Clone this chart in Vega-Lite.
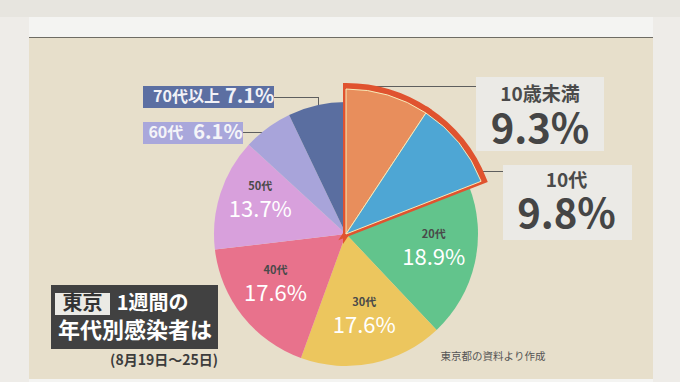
{
"$schema":"https://vega.github.io/schema/vega-lite/v6.json",
"background":"#e7dfcb",
"padding":0,
"autosize":{"type":"pad"},
"config":{"view":{"stroke":null},"font":"Noto Sans CJK JP"},
"data":{"values":[]},
"datasets":{"ages":[
 {"age":"10歳未満","share":0.093,"idx":1},
 {"age":"10代","share":0.098,"idx":2},
 {"age":"20代","share":0.189,"idx":3},
 {"age":"30代","share":0.176,"idx":4},
 {"age":"40代","share":0.176,"idx":5},
 {"age":"50代","share":0.137,"idx":6},
 {"age":"60代","share":0.061,"idx":7},
 {"age":"70代以上","share":0.071,"idx":8}
]},
"columns":16,
"align":"each",
"bounds":"flush",
"spacing":0,
"concat":[
{"width":29,"height":17,"mark":"text","encoding":{},"view":{"fill":"#e7e5df"}},
{"width":22,"height":17,"mark":"text","encoding":{},"view":{"fill":"#e7e5df"}},
{"width":4,"height":17,"mark":"text","encoding":{},"view":{"fill":"#e7e5df"}},
{"width":55,"height":17,"mark":"text","encoding":{},"view":{"fill":"#e7e5df"}},
{"width":33,"height":17,"mark":"text","encoding":{},"view":{"fill":"#e7e5df"}},
{"width":75,"height":17,"mark":"text","encoding":{},"view":{"fill":"#e7e5df"}},
{"width":25,"height":17,"mark":"text","encoding":{},"view":{"fill":"#e7e5df"}},
{"width":31,"height":17,"mark":"text","encoding":{},"view":{"fill":"#e7e5df"}},
{"width":44,"height":17,"mark":"text","encoding":{},"view":{"fill":"#e7e5df"}},
{"width":56,"height":17,"mark":"text","encoding":{},"view":{"fill":"#e7e5df"}},
{"width":102,"height":17,"mark":"text","encoding":{},"view":{"fill":"#e7e5df"}},
{"width":27,"height":17,"mark":"text","encoding":{},"view":{"fill":"#e7e5df"}},
{"width":101,"height":17,"mark":"text","encoding":{},"view":{"fill":"#e7e5df"}},
{"width":28,"height":17,"mark":"text","encoding":{},"view":{"fill":"#e7e5df"}},
{"width":21,"height":17,"mark":"text","encoding":{},"view":{"fill":"#e7e5df"}},
{"width":27,"height":17,"mark":"text","encoding":{},"view":{"fill":"#e7e5df"}},

{"width":29,"height":20,"mark":"text","encoding":{},"view":{"fill":"#eeece8"}},
{"width":22,"height":20,"mark":"text","encoding":{},"view":{"fill":"#f4f4f2"}},
{"width":4,"height":20,"mark":"text","encoding":{},"view":{"fill":"#f4f4f2"}},
{"width":55,"height":20,"mark":"text","encoding":{},"view":{"fill":"#f4f4f2"}},
{"width":33,"height":20,"mark":"text","encoding":{},"view":{"fill":"#f4f4f2"}},
{"width":75,"height":20,"mark":"text","encoding":{},"view":{"fill":"#f4f4f2"}},
{"width":25,"height":20,"mark":"text","encoding":{},"view":{"fill":"#f4f4f2"}},
{"width":31,"height":20,"mark":"text","encoding":{},"view":{"fill":"#f4f4f2"}},
{"width":44,"height":20,"mark":"text","encoding":{},"view":{"fill":"#f4f4f2"}},
{"width":56,"height":20,"mark":"text","encoding":{},"view":{"fill":"#f4f4f2"}},
{"width":102,"height":20,"mark":"text","encoding":{},"view":{"fill":"#f4f4f2"}},
{"width":27,"height":20,"mark":"text","encoding":{},"view":{"fill":"#f4f4f2"}},
{"width":101,"height":20,"mark":"text","encoding":{},"view":{"fill":"#f4f4f2"}},
{"width":28,"height":20,"mark":"text","encoding":{},"view":{"fill":"#f4f4f2"}},
{"width":21,"height":20,"mark":"text","encoding":{},"view":{"fill":"#f4f4f2"}},
{"width":27,"height":20,"mark":"text","encoding":{},"view":{"fill":"#eeece8"}},

{"width":29,"height":1,"mark":"text","encoding":{},"view":{"fill":"#eeece8"}},
{"width":22,"height":1,"mark":"text","encoding":{},"view":{"fill":"#6e6c64"}},
{"width":4,"height":1,"mark":"text","encoding":{},"view":{"fill":"#6e6c64"}},
{"width":55,"height":1,"mark":"text","encoding":{},"view":{"fill":"#6e6c64"}},
{"width":33,"height":1,"mark":"text","encoding":{},"view":{"fill":"#6e6c64"}},
{"width":75,"height":1,"mark":"text","encoding":{},"view":{"fill":"#6e6c64"}},
{"width":25,"height":1,"mark":"text","encoding":{},"view":{"fill":"#6e6c64"}},
{"width":31,"height":1,"mark":"text","encoding":{},"view":{"fill":"#6e6c64"}},
{"width":44,"height":1,"mark":"text","encoding":{},"view":{"fill":"#6e6c64"}},
{"width":56,"height":1,"mark":"text","encoding":{},"view":{"fill":"#6e6c64"}},
{"width":102,"height":1,"mark":"text","encoding":{},"view":{"fill":"#6e6c64"}},
{"width":27,"height":1,"mark":"text","encoding":{},"view":{"fill":"#6e6c64"}},
{"width":101,"height":1,"mark":"text","encoding":{},"view":{"fill":"#6e6c64"}},
{"width":28,"height":1,"mark":"text","encoding":{},"view":{"fill":"#6e6c64"}},
{"width":21,"height":1,"mark":"text","encoding":{},"view":{"fill":"#6e6c64"}},
{"width":27,"height":1,"mark":"text","encoding":{},"view":{"fill":"#eeece8"}},

{"width":29,"height":39,"mark":"text","encoding":{},"view":{"fill":"#eeece8"}},
{"width":1,"height":1,"mark":"text","encoding":{}},
{"width":1,"height":1,"mark":"text","encoding":{}},
{"width":1,"height":1,"mark":"text","encoding":{}},
{"width":1,"height":1,"mark":"text","encoding":{}},
{"width":1,"height":1,"mark":"text","encoding":{}},
{"width":1,"height":1,"mark":"text","encoding":{}},
{"width":1,"height":1,"mark":"text","encoding":{}},
{"width":1,"height":1,"mark":"text","encoding":{}},
{"width":1,"height":1,"mark":"text","encoding":{}},
{"width":1,"height":1,"mark":"text","encoding":{}},
{"width":1,"height":1,"mark":"text","encoding":{}},
{"width":1,"height":1,"mark":"text","encoding":{}},
{"width":1,"height":1,"mark":"text","encoding":{}},
{"width":1,"height":1,"mark":"text","encoding":{}},
{"width":27,"height":39,"mark":"text","encoding":{},"view":{"fill":"#eeece8"}},

{"width":29,"height":9,"mark":"text","encoding":{},"view":{"fill":"#eeece8"}},
{"width":1,"height":1,"mark":"text","encoding":{}},
{"width":1,"height":1,"mark":"text","encoding":{}},
{"width":1,"height":1,"mark":"text","encoding":{}},
{"width":1,"height":1,"mark":"text","encoding":{}},
{"width":1,"height":1,"mark":"text","encoding":{}},
{"width":1,"height":1,"mark":"text","encoding":{}},
{"width":1,"height":1,"mark":"text","encoding":{}},
{"width":1,"height":1,"mark":"text","encoding":{}},
{"width":1,"height":1,"mark":"text","encoding":{}},
{"width":1,"height":1,"mark":"text","encoding":{}},
{"width":27,"height":9,"mark":"text","encoding":{},"view":{"fill":"#ebeae6"}},
{"width":101,"height":9,"mark":"text","encoding":{},"view":{"fill":"#ebeae6"}},
{"width":1,"height":1,"mark":"text","encoding":{}},
{"width":1,"height":1,"mark":"text","encoding":{}},
{"width":27,"height":9,"mark":"text","encoding":{},"view":{"fill":"#eeece8"}},

{"width":29,"height":11,"mark":"text","encoding":{},"view":{"fill":"#eeece8"}},
{"width":1,"height":1,"mark":"text","encoding":{}},
{"width":1,"height":1,"mark":"text","encoding":{}},
{"width":1,"height":1,"mark":"text","encoding":{}},
{"width":1,"height":1,"mark":"text","encoding":{}},
{"width":75,"height":11,"mark":"text","encoding":{},"view":{"fill":"#5c6fa2"}},
{"width":25,"height":11,"mark":"text","encoding":{},"view":{"fill":"#5c6fa2"}},
{"width":31,"height":11,"mark":"text","encoding":{},"view":{"fill":"#5c6fa2"}},
{"width":1,"height":1,"mark":"text","encoding":{}},
{"width":1,"height":1,"mark":"text","encoding":{}},
{"width":102,"height":1,"mark":"text","encoding":{},"view":{"fill":"#5e5e5e"}},
{"width":27,"height":11,"mark":"text","encoding":{},"view":{"fill":"#ebeae6"}},
{"width":101,"height":11,"mark":"text","encoding":{},"view":{"fill":"#ebeae6"}},
{"width":1,"height":1,"mark":"text","encoding":{}},
{"width":1,"height":1,"mark":"text","encoding":{}},
{"width":27,"height":11,"mark":"text","encoding":{},"view":{"fill":"#eeece8"}},

{"width":29,"height":11,"mark":"text","encoding":{},"view":{"fill":"#eeece8"}},
{"width":1,"height":1,"mark":"text","encoding":{}},
{"width":1,"height":1,"mark":"text","encoding":{}},
{"width":1,"height":1,"mark":"text","encoding":{}},
{"width":1,"height":1,"mark":"text","encoding":{}},
{"width":75,"height":11,"mark":"text","encoding":{},"view":{"fill":"#5c6fa2"}},
{"width":25,"height":11,"mark":"text","encoding":{},"view":{"fill":"#5c6fa2"}},
{"width":31,"height":11,"view":{"fill":"#5c6fa2"},
 "data":{"name":"ages"},"transform":[{"filter":"datum.age === '70代以上'"}],
 "layer":[
   {"mark":{"type":"text","align":"right","dx":-38.5,"dy":-5.5,"fontSize":16,"fontWeight":"bold","color":"#f2f2f7"},"encoding":{"text":{"field":"age","type":"nominal"}}},
   {"mark":{"type":"text","align":"left","dx":-33.5,"dy":-5.5,"fontSize":20,"fontWeight":"bold","color":"#f2f2f7"},"encoding":{"text":{"field":"share","type":"quantitative","format":".1%"}}}
 ]},
{"width":44,"height":1,"mark":"text","encoding":{},"view":{"fill":"#5e5e5e"}},
{"width":1,"height":11,"mark":"text","encoding":{},"view":{"fill":"#5e5e5e"}},
{"width":1,"height":1,"mark":"text","encoding":{}},
{"width":27,"height":11,"mark":"text","encoding":{},"view":{"fill":"#ebeae6"}},
{"width":101,"height":11,"mark":"text","encoding":{},"view":{"fill":"#ebeae6"}},
{"width":1,"height":1,"mark":"text","encoding":{}},
{"width":1,"height":1,"mark":"text","encoding":{}},
{"width":27,"height":11,"mark":"text","encoding":{},"view":{"fill":"#eeece8"}},

{"width":29,"height":14,"mark":"text","encoding":{},"view":{"fill":"#eeece8"}},
{"width":1,"height":1,"mark":"text","encoding":{}},
{"width":1,"height":1,"mark":"text","encoding":{}},
{"width":1,"height":1,"mark":"text","encoding":{}},
{"width":1,"height":1,"mark":"text","encoding":{}},
{"width":1,"height":1,"mark":"text","encoding":{}},
{"width":1,"height":1,"mark":"text","encoding":{}},
{"width":1,"height":1,"mark":"text","encoding":{}},
{"width":1,"height":1,"mark":"text","encoding":{}},
{"width":1,"height":1,"mark":"text","encoding":{}},
{"width":1,"height":1,"mark":"text","encoding":{}},
{"width":27,"height":14,"mark":"text","encoding":{},"view":{"fill":"#ebeae6"}},
{"width":101,"height":14,"mark":"text","encoding":{},"view":{"fill":"#ebeae6"}},
{"width":1,"height":1,"mark":"text","encoding":{}},
{"width":1,"height":1,"mark":"text","encoding":{}},
{"width":27,"height":14,"mark":"text","encoding":{},"view":{"fill":"#eeece8"}},

{"width":29,"height":10,"mark":"text","encoding":{},"view":{"fill":"#eeece8"}},
{"width":1,"height":1,"mark":"text","encoding":{}},
{"width":1,"height":1,"mark":"text","encoding":{}},
{"width":1,"height":1,"mark":"text","encoding":{}},
{"width":1,"height":1,"mark":"text","encoding":{}},
{"width":75,"height":10,"mark":"text","encoding":{},"view":{"fill":"#a9a7db"}},
{"width":25,"height":10,"mark":"text","encoding":{},"view":{"fill":"#a9a7db"}},
{"width":1,"height":1,"mark":"text","encoding":{}},
{"width":1,"height":1,"mark":"text","encoding":{}},
{"width":1,"height":1,"mark":"text","encoding":{}},
{"width":1,"height":1,"mark":"text","encoding":{}},
{"width":27,"height":10,"mark":"text","encoding":{},"view":{"fill":"#ebeae6"}},
{"width":101,"height":10,"mark":"text","encoding":{},"view":{"fill":"#ebeae6"}},
{"width":1,"height":1,"mark":"text","encoding":{}},
{"width":1,"height":1,"mark":"text","encoding":{}},
{"width":27,"height":10,"mark":"text","encoding":{},"view":{"fill":"#eeece8"}},

{"width":29,"height":12,"mark":"text","encoding":{},"view":{"fill":"#eeece8"}},
{"width":1,"height":1,"mark":"text","encoding":{}},
{"width":1,"height":1,"mark":"text","encoding":{}},
{"width":1,"height":1,"mark":"text","encoding":{}},
{"width":1,"height":1,"mark":"text","encoding":{}},
{"width":75,"height":12,"mark":"text","encoding":{},"view":{"fill":"#a9a7db"}},
{"width":25,"height":12,"view":{"fill":"#a9a7db"},
 "data":{"name":"ages"},"transform":[{"filter":"datum.age === '60代'"}],
 "layer":[
   {"mark":{"type":"text","align":"right","dx":-47.2,"dy":-5,"fontSize":16,"fontWeight":"bold","color":"#f4f4f8"},"encoding":{"text":{"field":"age","type":"nominal"}}},
   {"mark":{"type":"text","align":"left","dx":-37.2,"dy":-5,"fontSize":20,"fontWeight":"bold","color":"#f4f4f8"},"encoding":{"text":{"field":"share","type":"quantitative","format":".1%"}}}
 ]},
{"width":31,"height":1,"mark":"text","encoding":{},"view":{"fill":"#5e5e5e"}},
{"width":1,"height":1,"mark":"text","encoding":{}},
{"width":1,"height":1,"mark":"text","encoding":{}},
{"width":1,"height":1,"mark":"text","encoding":{}},
{"width":27,"height":12,"mark":"text","encoding":{},"view":{"fill":"#ebeae6"}},
{"width":101,"height":12,"mark":"text","encoding":{},"view":{"fill":"#ebeae6"}},
{"width":1,"height":1,"mark":"text","encoding":{}},
{"width":1,"height":1,"mark":"text","encoding":{}},
{"width":27,"height":12,"mark":"text","encoding":{},"view":{"fill":"#eeece8"}},

{"width":29,"height":7,"mark":"text","encoding":{},"view":{"fill":"#eeece8"}},
{"width":1,"height":1,"mark":"text","encoding":{}},
{"width":1,"height":1,"mark":"text","encoding":{}},
{"width":1,"height":1,"mark":"text","encoding":{}},
{"width":1,"height":1,"mark":"text","encoding":{}},
{"width":1,"height":1,"mark":"text","encoding":{}},
{"width":1,"height":1,"mark":"text","encoding":{}},
{"width":1,"height":1,"mark":"text","encoding":{}},
{"width":1,"height":1,"mark":"text","encoding":{}},
{"width":1,"height":1,"mark":"text","encoding":{}},
{"width":1,"height":1,"mark":"text","encoding":{}},
{"width":27,"height":7,"mark":"text","encoding":{},"view":{"fill":"#ebeae6"}},
{"width":101,"height":7,"view":{"fill":"#ebeae6"},
 "data":{"name":"ages"},"transform":[{"filter":"datum.age === '10歳未満'"}],
 "layer":[
   {"mark":{"type":"text","dx":-13.5,"dy":-53,"fontSize":19,"fontWeight":"bold","color":"#4a4a4a"},"encoding":{"text":{"field":"age","type":"nominal"}}},
   {"mark":{"type":"text","dx":-13.5,"dy":-17,"fontSize":40,"fontWeight":"bold","color":"#454545"},"encoding":{"text":{"field":"share","type":"quantitative","format":".1%"}}}
 ]},
{"width":1,"height":1,"mark":"text","encoding":{}},
{"width":1,"height":1,"mark":"text","encoding":{}},
{"width":27,"height":7,"mark":"text","encoding":{},"view":{"fill":"#eeece8"}},

{"width":29,"height":14,"mark":"text","encoding":{},"view":{"fill":"#eeece8"}},
{"width":1,"height":1,"mark":"text","encoding":{}},
{"width":1,"height":1,"mark":"text","encoding":{}},
{"width":1,"height":1,"mark":"text","encoding":{}},
{"width":1,"height":1,"mark":"text","encoding":{}},
{"width":1,"height":1,"mark":"text","encoding":{}},
{"width":1,"height":1,"mark":"text","encoding":{}},
{"width":1,"height":1,"mark":"text","encoding":{}},
{"width":1,"height":1,"mark":"text","encoding":{}},
{"width":1,"height":1,"mark":"text","encoding":{}},
{"width":1,"height":1,"mark":"text","encoding":{}},
{"width":1,"height":1,"mark":"text","encoding":{}},
{"width":1,"height":1,"mark":"text","encoding":{}},
{"width":1,"height":1,"mark":"text","encoding":{}},
{"width":1,"height":1,"mark":"text","encoding":{}},
{"width":27,"height":14,"mark":"text","encoding":{},"view":{"fill":"#eeece8"}},

{"width":29,"height":6,"mark":"text","encoding":{},"view":{"fill":"#eeece8"}},
{"width":1,"height":1,"mark":"text","encoding":{}},
{"width":1,"height":1,"mark":"text","encoding":{}},
{"width":1,"height":1,"mark":"text","encoding":{}},
{"width":1,"height":1,"mark":"text","encoding":{}},
{"width":1,"height":1,"mark":"text","encoding":{}},
{"width":1,"height":1,"mark":"text","encoding":{}},
{"width":1,"height":1,"mark":"text","encoding":{}},
{"width":1,"height":1,"mark":"text","encoding":{}},
{"width":1,"height":1,"mark":"text","encoding":{}},
{"width":1,"height":1,"mark":"text","encoding":{}},
{"width":1,"height":1,"mark":"text","encoding":{}},
{"width":101,"height":6,"mark":"text","encoding":{},"view":{"fill":"#ebeae6"}},
{"width":28,"height":6,"mark":"text","encoding":{},"view":{"fill":"#ebeae6"}},
{"width":1,"height":1,"mark":"text","encoding":{}},
{"width":27,"height":6,"mark":"text","encoding":{},"view":{"fill":"#eeece8"}},

{"width":29,"height":57,"mark":"text","encoding":{},"view":{"fill":"#eeece8"}},
{"width":1,"height":1,"mark":"text","encoding":{}},
{"width":1,"height":1,"mark":"text","encoding":{}},
{"width":1,"height":1,"mark":"text","encoding":{}},
{"width":1,"height":1,"mark":"text","encoding":{}},
{"width":1,"height":1,"mark":"text","encoding":{}},
{"width":1,"height":1,"mark":"text","encoding":{}},
{"width":1,"height":1,"mark":"text","encoding":{}},
{"width":1,"height":1,"mark":"text","encoding":{}},
{"width":1,"height":1,"mark":"text","encoding":{}},
{"width":1,"height":1,"mark":"text","encoding":{}},
{"width":27,"height":1,"mark":"text","encoding":{},"view":{"fill":"#5e5e5e"}},
{"width":101,"height":57,"mark":"text","encoding":{},"view":{"fill":"#ebeae6"}},
{"width":28,"height":57,"mark":"text","encoding":{},"view":{"fill":"#ebeae6"}},
{"width":1,"height":1,"mark":"text","encoding":{}},
{"width":27,"height":57,"mark":"text","encoding":{},"view":{"fill":"#eeece8"}},

{"width":29,"height":12,"mark":"text","encoding":{},"view":{"fill":"#eeece8"}},
{"width":1,"height":1,"mark":"text","encoding":{}},
{"width":1,"height":1,"mark":"text","encoding":{}},
{"width":1,"height":1,"mark":"text","encoding":{}},
{"width":1,"height":1,"mark":"text","encoding":{}},
{"width":1,"height":1,"mark":"text","encoding":{}},
{"width":1,"height":1,"mark":"text","encoding":{}},
{"width":1,"height":1,"mark":"text","encoding":{}},
{"width":1,"height":1,"mark":"text","encoding":{}},
{"width":56,"height":12,
 "data":{"name":"ages"},
 "encoding":{
   "theta":{"field":"share","type":"quantitative","stack":true},
   "order":{"field":"idx","type":"quantitative"}
 },
 "layer":[
   {"mark":{"type":"arc","radius":132},
    "encoding":{"color":{"field":"age","type":"nominal","legend":null,
      "scale":{"domain":["10歳未満","10代","20代","30代","40代","50代","60代","70代以上"],
               "range":["#e88e5c","#4ea6d4","#62c48c","#ecc65e","#e8728c","#d8a0dc","#a8a4da","#5a6ea0"]}}}},
   {"mark":{"type":"arc","radius":148,"fill":"#e0532f","stroke":"#e0532f","strokeWidth":6},
    "encoding":{"detail":{"field":"age","type":"nominal"},
      "opacity":{"condition":{"test":"datum.idx <= 2","value":1},"value":0}}},
   {"mark":{"type":"arc","radius":145,"stroke":"#f7eab8","strokeWidth":1},
    "encoding":{"color":{"field":"age","type":"nominal","legend":null},
      "opacity":{"condition":{"test":"datum.idx <= 2","value":1},"value":0}}},
   {"mark":{"type":"text","radius":90,"dy":-19,"fontSize":11,"fontWeight":"bold","color":"#4a4a4a"},
    "encoding":{"detail":{"field":"age","type":"nominal"},
      "text":{"condition":{"test":"datum.share > 0.1","field":"age","type":"nominal"},"value":""}}},
   {"mark":{"type":"text","radius":90,"dy":4,"fontSize":22,"color":"#ffffff"},
    "encoding":{"detail":{"field":"age","type":"nominal"},
      "text":{"condition":{"test":"datum.share > 0.1","field":"share","type":"quantitative","format":".1%"},"value":""}}}
 ]
},
{"width":1,"height":1,"mark":"text","encoding":{}},
{"width":1,"height":1,"mark":"text","encoding":{}},
{"width":101,"height":12,"mark":"text","encoding":{},"view":{"fill":"#ebeae6"}},
{"width":28,"height":12,"view":{"fill":"#ebeae6"},
 "data":{"name":"ages"},"transform":[{"filter":"datum.age === '10代'"}],
 "layer":[
   {"mark":{"type":"text","dx":-51.5,"dy":-53,"fontSize":19,"fontWeight":"bold","color":"#4a4a4a"},"encoding":{"text":{"field":"age","type":"nominal"}}},
   {"mark":{"type":"text","dx":-51.5,"dy":-18,"fontSize":40,"fontWeight":"bold","color":"#454545"},"encoding":{"text":{"field":"share","type":"quantitative","format":".1%"}}}
 ]},
{"width":1,"height":1,"mark":"text","encoding":{}},
{"width":27,"height":12,"mark":"text","encoding":{},"view":{"fill":"#eeece8"}},

{"width":29,"height":45,"mark":"text","encoding":{},"view":{"fill":"#eeece8"}},
{"width":1,"height":1,"mark":"text","encoding":{}},
{"width":1,"height":1,"mark":"text","encoding":{}},
{"width":1,"height":1,"mark":"text","encoding":{}},
{"width":1,"height":1,"mark":"text","encoding":{}},
{"width":1,"height":1,"mark":"text","encoding":{}},
{"width":1,"height":1,"mark":"text","encoding":{}},
{"width":1,"height":1,"mark":"text","encoding":{}},
{"width":1,"height":1,"mark":"text","encoding":{}},
{"width":1,"height":1,"mark":"text","encoding":{}},
{"width":1,"height":1,"mark":"text","encoding":{}},
{"width":1,"height":1,"mark":"text","encoding":{}},
{"width":1,"height":1,"mark":"text","encoding":{}},
{"width":1,"height":1,"mark":"text","encoding":{}},
{"width":1,"height":1,"mark":"text","encoding":{}},
{"width":27,"height":45,"mark":"text","encoding":{},"view":{"fill":"#eeece8"}},

{"width":29,"height":8,"mark":"text","encoding":{},"view":{"fill":"#eeece8"}},
{"width":1,"height":1,"mark":"text","encoding":{}},
{"width":4,"height":8,"mark":"text","encoding":{},"view":{"fill":"#414141"}},
{"width":55,"height":8,"mark":"text","encoding":{},"view":{"fill":"#414141"}},
{"width":33,"height":8,"mark":"text","encoding":{},"view":{"fill":"#414141"}},
{"width":75,"height":8,"mark":"text","encoding":{},"view":{"fill":"#414141"}},
{"width":1,"height":1,"mark":"text","encoding":{}},
{"width":1,"height":1,"mark":"text","encoding":{}},
{"width":1,"height":1,"mark":"text","encoding":{}},
{"width":1,"height":1,"mark":"text","encoding":{}},
{"width":1,"height":1,"mark":"text","encoding":{}},
{"width":1,"height":1,"mark":"text","encoding":{}},
{"width":1,"height":1,"mark":"text","encoding":{}},
{"width":1,"height":1,"mark":"text","encoding":{}},
{"width":1,"height":1,"mark":"text","encoding":{}},
{"width":27,"height":8,"mark":"text","encoding":{},"view":{"fill":"#eeece8"}},

{"width":29,"height":22,"mark":"text","encoding":{},"view":{"fill":"#eeece8"}},
{"width":1,"height":1,"mark":"text","encoding":{}},
{"width":4,"height":22,"mark":"text","encoding":{},"view":{"fill":"#414141"}},
{"width":55,"height":22,"view":{"fill":"#ebeae5"},"data":{"values":[{}]},
 "mark":{"type":"text","fontSize":20,"fontWeight":"bold","color":"#333333"},
 "encoding":{"text":{"value":"東京"}}},
{"width":33,"height":22,"mark":"text","encoding":{},"view":{"fill":"#414141"}},
{"width":75,"height":22,"view":{"fill":"#414141"},"data":{"values":[{}]},
 "mark":{"type":"text","align":"left","dx":-63.8,"fontSize":20,"fontWeight":"bold","color":"#ffffff"},
 "encoding":{"text":{"value":"1週間の"}}},
{"width":1,"height":1,"mark":"text","encoding":{}},
{"width":1,"height":1,"mark":"text","encoding":{}},
{"width":1,"height":1,"mark":"text","encoding":{}},
{"width":1,"height":1,"mark":"text","encoding":{}},
{"width":1,"height":1,"mark":"text","encoding":{}},
{"width":1,"height":1,"mark":"text","encoding":{}},
{"width":1,"height":1,"mark":"text","encoding":{}},
{"width":1,"height":1,"mark":"text","encoding":{}},
{"width":1,"height":1,"mark":"text","encoding":{}},
{"width":27,"height":22,"mark":"text","encoding":{},"view":{"fill":"#eeece8"}},

{"width":29,"height":64,"mark":"text","encoding":{},"view":{"fill":"#eeece8"}},
{"width":1,"height":1,"mark":"text","encoding":{}},
{"width":4,"height":34,"mark":"text","encoding":{},"view":{"fill":"#414141"}},
{"width":55,"height":34,"mark":"text","encoding":{},"view":{"fill":"#414141"}},
{"width":33,"height":34,"mark":"text","encoding":{},"view":{"fill":"#414141"}},
{"width":75,"height":34,"view":{"fill":"#414141"},"data":{"values":[{}]},
 "layer":[
   {"mark":{"type":"text","dx":-45.5,"dy":-1,"fontSize":22,"fontWeight":"bold","color":"#ffffff"},"encoding":{"text":{"value":"年代別感染者は"}}},
   {"mark":{"type":"text","align":"right","dx":37.5,"dy":29,"fontSize":14,"fontWeight":"bold","color":"#3c3c3c"},"encoding":{"text":{"value":"(8月19日～25日)"}}}
 ]},
{"width":1,"height":1,"mark":"text","encoding":{}},
{"width":1,"height":1,"mark":"text","encoding":{}},
{"width":1,"height":1,"mark":"text","encoding":{}},
{"width":1,"height":1,"mark":"text","encoding":{}},
{"width":1,"height":1,"mark":"text","encoding":{}},
{"width":27,"height":34,"data":{"values":[{}]},
 "mark":{"type":"text","dx":3.5,"dy":25,"fontSize":10.5,"color":"#555555"},
 "encoding":{"text":{"value":"東京都の資料より作成"}}},
{"width":1,"height":1,"mark":"text","encoding":{}},
{"width":1,"height":1,"mark":"text","encoding":{}},
{"width":1,"height":1,"mark":"text","encoding":{}},
{"width":27,"height":64,"mark":"text","encoding":{},"view":{"fill":"#eeece8"}},

{"width":29,"height":3,"mark":"text","encoding":{},"view":{"fill":"#eeece8"}},
{"width":22,"height":3,"mark":"text","encoding":{},"view":{"fill":"#f4f4f2"}},
{"width":4,"height":3,"mark":"text","encoding":{},"view":{"fill":"#f4f4f2"}},
{"width":55,"height":3,"mark":"text","encoding":{},"view":{"fill":"#f4f4f2"}},
{"width":33,"height":3,"mark":"text","encoding":{},"view":{"fill":"#f4f4f2"}},
{"width":75,"height":3,"mark":"text","encoding":{},"view":{"fill":"#f4f4f2"}},
{"width":25,"height":3,"mark":"text","encoding":{},"view":{"fill":"#f4f4f2"}},
{"width":31,"height":3,"mark":"text","encoding":{},"view":{"fill":"#f4f4f2"}},
{"width":44,"height":3,"mark":"text","encoding":{},"view":{"fill":"#f4f4f2"}},
{"width":56,"height":3,"mark":"text","encoding":{},"view":{"fill":"#f4f4f2"}},
{"width":102,"height":3,"mark":"text","encoding":{},"view":{"fill":"#f4f4f2"}},
{"width":27,"height":3,"mark":"text","encoding":{},"view":{"fill":"#f4f4f2"}},
{"width":101,"height":3,"mark":"text","encoding":{},"view":{"fill":"#f4f4f2"}},
{"width":28,"height":3,"mark":"text","encoding":{},"view":{"fill":"#f4f4f2"}},
{"width":21,"height":3,"mark":"text","encoding":{},"view":{"fill":"#f4f4f2"}},
{"width":27,"height":3,"mark":"text","encoding":{},"view":{"fill":"#eeece8"}}
]
}
